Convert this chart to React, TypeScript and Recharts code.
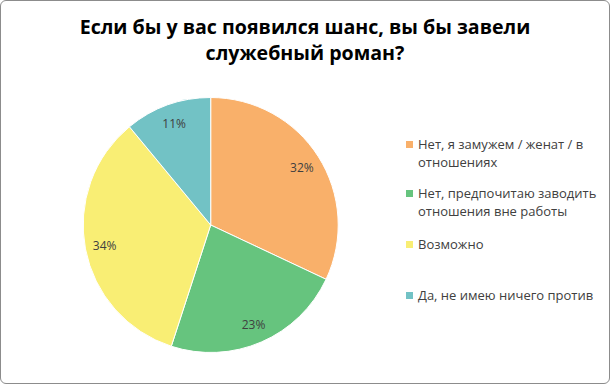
import { PieChart, Pie, Cell, Legend } from 'recharts';

const categories = [
  'Нет, я замужем / женат / в отношениях',
  'Нет, предпочитаю заводить отношения вне работы',
  'Возможно',
  'Да, не имею ничего против',
];
const shares = [32, 23, 34, 11];
const COLORS = ['#F9B06A', '#66C47E', '#F9EE74', '#72C2C5'];

const data = categories.map((name, i) => ({ name, value: shares[i] }));

const FONT = '"Open Sans", sans-serif';
const RAD = Math.PI / 180;

function renderLabel(props: any) {
  const { cx, cy, midAngle, value } = props;
  const r = 108;
  const x = cx + r * Math.cos(-midAngle * RAD);
  const y = cy + r * Math.sin(-midAngle * RAD);
  return (
    <text x={x} y={y} fill="#404040" fontSize={12} fontFamily={FONT} textAnchor="middle" dominantBaseline="central">
      {value}%
    </text>
  );
}

function LegendContent() {
  const gaps = [0, 13, 15, 33];
  return (
    <div style={{ fontFamily: FONT, fontSize: 13, color: '#404040', lineHeight: '18px' }}>
      {data.map((d, i) => (
        <div key={d.name} style={{ display: 'flex', alignItems: 'flex-start', marginTop: gaps[i] }}>
          <span style={{ width: 7, height: 7, background: COLORS[i], marginTop: 6, marginRight: 5, flex: 'none' }} />
          <span>{d.name}</span>
        </div>
      ))}
    </div>
  );
}

export default function App() {
  return (
    <div style={{ position: 'absolute', left: 0, top: 0, width: 610, height: 384, background: '#fff' }}>
      <div
        style={{
          position: 'absolute', left: 0, top: 0, width: 608, height: 382,
          border: '1px solid #8c8c8c', borderRadius: 6, boxSizing: 'content-box',
        }}
      />
      <div
        style={{
          position: 'absolute', left: 0, top: 14, width: 610, textAlign: 'center',
          fontFamily: FONT, fontWeight: 700, fontSize: 19.6, lineHeight: '26px', color: '#000',
        }}
      >
        Если бы у вас появился шанс, вы бы завели<br />служебный роман?
      </div>
      <PieChart width={610} height={384} style={{ position: 'absolute', left: 0, top: 0 }}>
        <Pie
          data={data}
          dataKey="value"
          nameKey="name"
          cx={205.7}
          cy={220}
          outerRadius={127.5}
          startAngle={90}
          endAngle={-270}
          stroke="#fff"
          strokeWidth={1}
          label={renderLabel}
          labelLine={false}
          isAnimationActive={false}
        >
          {data.map((_, i) => (
            <Cell key={i} fill={COLORS[i]} />
          ))}
        </Pie>
        <Legend
          content={<LegendContent />}
          layout="vertical"
          wrapperStyle={{ position: 'absolute', left: 406, top: 135, width: 200 }}
        />
      </PieChart>
    </div>
  );
}
